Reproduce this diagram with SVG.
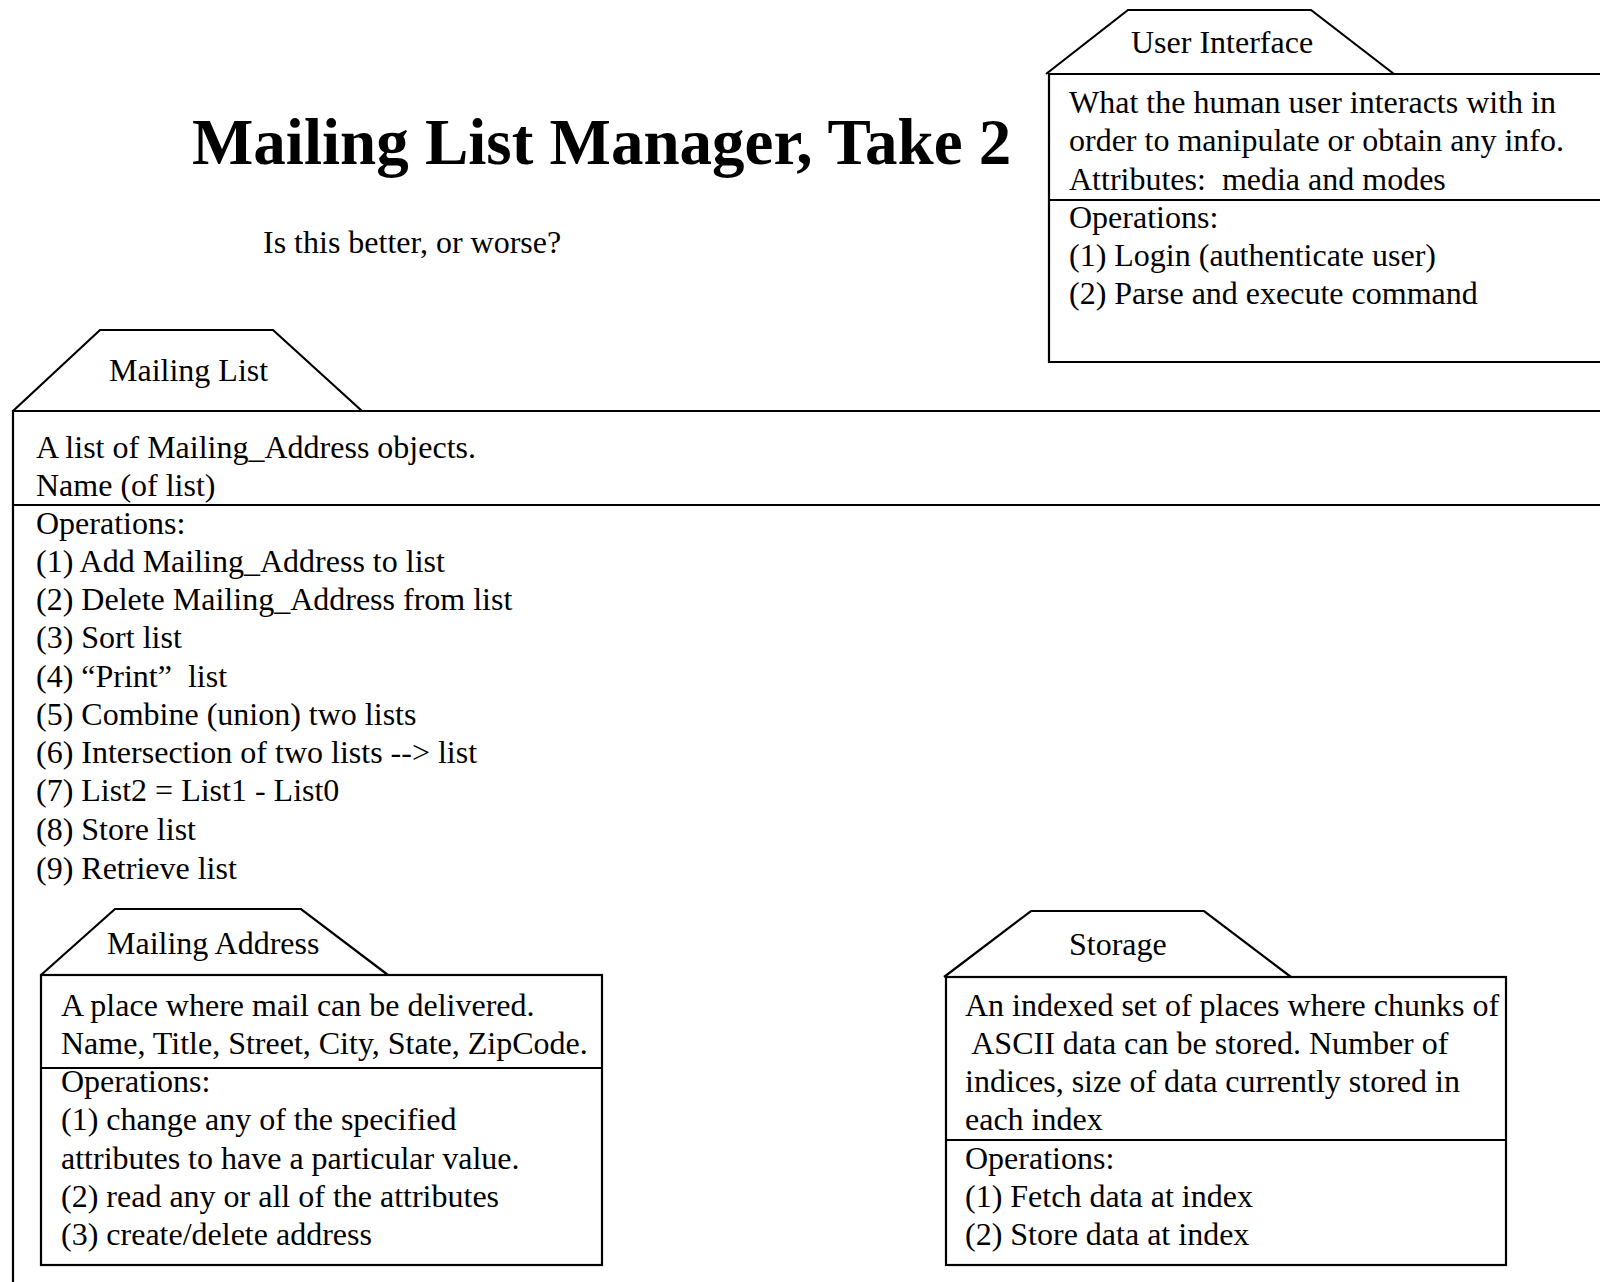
<svg xmlns="http://www.w3.org/2000/svg" width="1600" height="1282" viewBox="0 0 1600 1282">
<style>
.t{font-family:"Liberation Serif","Times New Roman",serif;font-size:32px;fill:#000;white-space:pre}
.title{font-family:"Liberation Serif","Times New Roman",serif;font-size:65px;font-weight:bold;fill:#000}
.ln{fill:none;stroke:#000;stroke-width:2.2}
.bx{fill:#fff;stroke:#000;stroke-width:2.2}
</style>
<rect x="0" y="0" width="1600" height="1282" fill="#fff"/>
<text class="title" x="192" y="164">Mailing List Manager, Take 2</text>
<text class="t" x="263" y="253">Is this better, or worse?</text>

<g id="user-interface">
<polyline class="ln" points="1046,74 1128,10 1311,10 1394,74"/>
<path class="ln" d="M1604,74 H1049 V362 H1604"/>
<line class="ln" x1="1049" y1="200" x2="1604" y2="200"/>
<text class="t" x="1131" y="53">User Interface</text>
<text class="t" x="1069" y="113">What the human user interacts with in</text>
<text class="t" x="1069" y="151">order to manipulate or obtain any info.</text>
<text class="t" x="1069" y="190" xml:space="preserve">Attributes:  media and modes</text>
<text class="t" x="1069" y="228">Operations:</text>
<text class="t" x="1069" y="266">(1) Login (authenticate user)</text>
<text class="t" x="1069" y="304">(2) Parse and execute command</text>
</g>

<g id="mailing-list">
<polyline class="ln" points="13,411 100,330 273,330 362,411"/>
<path class="ln" d="M1604,411 H13 V1290"/>
<line class="ln" x1="13" y1="505" x2="1604" y2="505"/>
<text class="t" x="109" y="381">Mailing List</text>
<text class="t" x="36" y="458">A list of Mailing_Address objects.</text>
<text class="t" x="36" y="496">Name (of list)</text>
<text class="t" x="36" y="534">Operations:</text>
<text class="t" x="36" y="572">(1) Add Mailing_Address to list</text>
<text class="t" x="36" y="610">(2) Delete Mailing_Address from list</text>
<text class="t" x="36" y="648">(3) Sort list</text>
<text class="t" x="36" y="687" xml:space="preserve">(4) “Print”  list</text>
<text class="t" x="36" y="725">(5) Combine (union) two lists</text>
<text class="t" x="36" y="763">(6) Intersection of two lists --&gt; list</text>
<text class="t" x="36" y="801">(7) List2 = List1 - List0</text>
<text class="t" x="36" y="840">(8) Store list</text>
<text class="t" x="36" y="879">(9) Retrieve list</text>
</g>

<g id="mailing-address">
<polyline class="ln" points="41,975 115,909 301,909 388,975"/>
<rect class="bx" x="41" y="975" width="561" height="290"/>
<line class="ln" x1="41" y1="1068" x2="602" y2="1068"/>
<text class="t" x="107" y="954">Mailing Address</text>
<text class="t" x="61" y="1016">A place where mail can be delivered.</text>
<text class="t" x="61" y="1054">Name, Title, Street, City, State, ZipCode.</text>
<text class="t" x="61" y="1092">Operations:</text>
<text class="t" x="61" y="1130">(1) change any of the specified</text>
<text class="t" x="61" y="1169">attributes to have a particular value.</text>
<text class="t" x="61" y="1207">(2) read any or all of the attributes</text>
<text class="t" x="61" y="1245">(3) create/delete address</text>
</g>

<g id="storage">
<polyline class="ln" points="944,977 1031,911 1204,911 1291,977"/>
<rect class="bx" x="946" y="977" width="560" height="288"/>
<line class="ln" x1="946" y1="1140" x2="1506" y2="1140"/>
<text class="t" x="1069" y="955">Storage</text>
<text class="t" x="965" y="1016">An indexed set of places where chunks of</text>
<text class="t" x="965" y="1054" xml:space="preserve"> ASCII data can be stored. Number of</text>
<text class="t" x="965" y="1092">indices, size of data currently stored in</text>
<text class="t" x="965" y="1130">each index</text>
<text class="t" x="965" y="1169">Operations:</text>
<text class="t" x="965" y="1207">(1) Fetch data at index</text>
<text class="t" x="965" y="1245">(2) Store data at index</text>
</g>

<g id="connectors"></g>
</svg>
